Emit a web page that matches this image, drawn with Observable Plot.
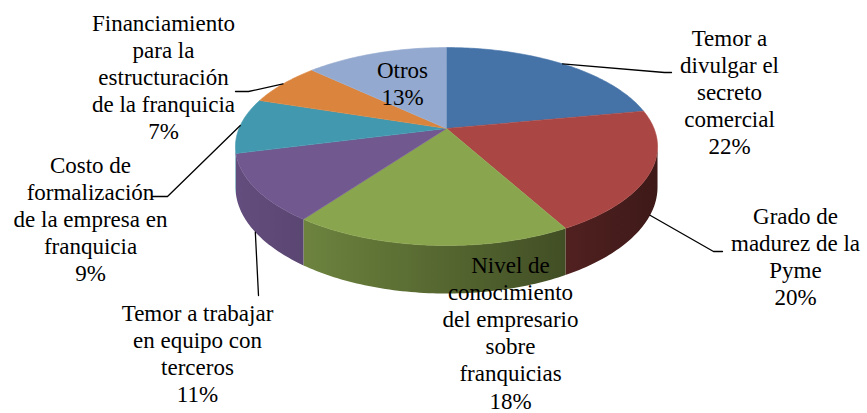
<!DOCTYPE html>
<html><head><meta charset="utf-8">
<script src="https://cdn.jsdelivr.net/npm/d3@7"></script>
<script src="https://cdn.jsdelivr.net/npm/@observablehq/plot@0.6"></script>
<style>
body{margin:0;background:#fff}
svg{display:block}
</style>
</head><body><div id="chart"></div>
<script>
// ---- data ----
const categories = [
  "Temor a divulgar el secreto comercial",
  "Grado de madurez de la Pyme",
  "Nivel de conocimiento del empresario sobre franquicias",
  "Temor a trabajar en equipo con terceros",
  "Costo de formalización de la empresa en franquicia",
  "Financiamiento para la estructuración de la franquicia",
  "Otros"
];
const values = [22, 20, 18, 11, 9, 7, 13];
const labelLines = [
  ["Temor a", "divulgar el", "secreto", "comercial"],
  ["Grado de", "madurez de la", "Pyme"],
  ["Nivel de", "conocimiento", "del empresario", "sobre", "franquicias"],
  ["Temor a trabajar", "en equipo con", "terceros"],
  ["Costo de", "formalización", "de la empresa en", "franquicia"],
  ["Financiamiento", "para la", "estructuración", "de la franquicia"],
  ["Otros"]
];

// ---- style / layout ----
const colors = ["#4572A7", "#AA4643", "#89A54E", "#71588F", "#4198AF", "#DB843D", "#93A9CF"];
const P = {cx: 446, cy: 128, k: 207.5, k2: 95.7, p: 0.182, H: 39.3};
const labelAnchor = [[729, 45], [795, 223], [510, 272], [197, 320], [90, 172], [163, 30], [402, 77]];
const leaderElbows = [[[664, 72], [671, 72]], [[713, 251], [722, 251]], null, [[258, 295]], [[167, 196], [152, 196]], [[248, 91], [235, 91]], null];
const FS = 23, LINE = 27.2;
const FONT = "Liberation Serif";
const shadeAt = u => 0.62 - 0.26 * u;

const deg = Math.PI / 180;
function proj(phi, depth = 0) {
  const u = Math.sin(phi * deg), v = Math.cos(phi * deg), w = 1 + P.p * v;
  return [P.cx + P.k * u / w, P.cy - P.k2 * v / w + depth * P.H / w];
}
function shade(hex, f) { const c = d3.rgb(hex); return d3.rgb(c.r * f, c.g * f, c.b * f).formatHex(); }

const total = d3.sum(values);
let acc = 0;
const slices = values.map((v, i) => {
  const a0 = acc / total * 360; acc += v; const a1 = acc / total * 360;
  return {i, a0, a1, mid: (a0 + a1) / 2};
});

// top faces
const topPts = [];
slices.forEach(s => {
  topPts.push({id: s.i, x: P.cx, y: P.cy, c: colors[s.i]});
  const n = Math.max(2, Math.ceil(s.a1 - s.a0));
  for (let j = 0; j <= n; j++) {
    const a = s.a0 + (s.a1 - s.a0) * j / n;
    const [x, y] = proj(a);
    topPts.push({id: s.i, x, y, c: colors[s.i]});
  }
});

// side faces (visible front part), one polygon per slice with horizontal gradient
const phiMin = Math.acos(-P.p) / deg, phiMax = 360 - phiMin;
const sidePts = [];
const sideIds = [];
slices.forEach(s => {
  const lo = Math.max(s.a0, phiMin), hi = Math.min(s.a1, phiMax);
  if (hi <= lo) return;
  sideIds.push(s.i);
  const n = Math.ceil(hi - lo);
  const top = [], bot = [];
  for (let j = 0; j <= n; j++) {
    const a = lo + (hi - lo) * j / n;
    top.push(proj(a, 0)); bot.push(proj(a, 1));
  }
  for (const [x, y] of [...top, ...bot.reverse()]) sidePts.push({id: s.i, x, y, c: `url(#side${s.i})`});
});

// leader lines
const leaderPts = [];
slices.forEach(s => {
  const e = leaderElbows[s.i]; if (!e) return;
  const v = Math.cos(s.mid * deg);
  const [x, y] = proj(s.mid, v < -P.p ? 1 : 0);
  leaderPts.push({id: s.i, x, y});
  e.forEach(([x, y]) => leaderPts.push({id: s.i, x, y}));
});

// labels: one row per text line (baseline positions)
const labels = [];
slices.forEach(s => {
  const lines = [...labelLines[s.i], values[s.i] + "%"];
  lines.forEach((t, j) => labels.push({x: labelAnchor[s.i][0], y: labelAnchor[s.i][1] + j * LINE, text: t}));
});

const chart = Plot.plot({
  width: 867, height: 413, margin: 0,
  x: {domain: [0, 867], range: [0, 867], axis: null},
  y: {domain: [0, 413], range: [0, 413], axis: null},
  color: {type: "identity"},
  marks: [
    Plot.line(sidePts, {x: "x", y: "y", z: "id", fill: "c", stroke: "none", curve: "linear"}),
    Plot.line(topPts, {x: "x", y: "y", z: "id", fill: "c", stroke: "c", strokeWidth: 0.6, curve: "linear"}),
    Plot.line(leaderPts, {x: "x", y: "y", z: "id", stroke: "black", strokeWidth: 1.3, curve: "linear"}),
    Plot.text(labels, {x: "x", y: "y", text: "text", fontSize: FS, fontFamily: FONT,
      lineAnchor: "top", dy: -0.71 * FS, textAnchor: "middle", fill: "black"})
  ]
});

// gradient definitions for the side faces, inserted into the chart's SVG
const defs = d3.select(chart).insert("defs", ":first-child");
for (const i of sideIds) {
  const g = defs.append("linearGradient").attr("id", `side${i}`)
    .attr("gradientUnits", "userSpaceOnUse")
    .attr("x1", chart.scale("x").apply(P.cx - P.k * 1.02))
    .attr("x2", chart.scale("x").apply(P.cx + P.k * 1.02))
    .attr("y1", 0).attr("y2", 0);
  for (let t = 0; t <= 1.0001; t += 0.1) {
    g.append("stop").attr("offset", t).attr("stop-color", shade(colors[i], shadeAt(2 * t - 1)));
  }
}
document.getElementById("chart").appendChild(chart);
</script>
</body></html>
